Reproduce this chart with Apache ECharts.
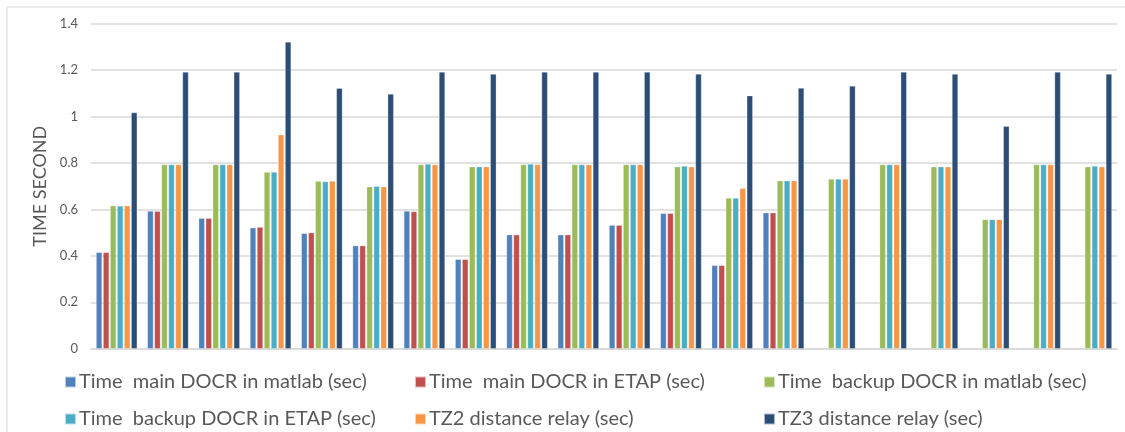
<!DOCTYPE html>
<html>
<head>
<meta charset="utf-8">
<script src="https://cdn.jsdelivr.net/npm/echarts@6/dist/echarts.min.js"></script>
<style>html,body{margin:0;padding:0;background:#fff;}#c{width:1125px;height:432px;}</style>
</head>
<body>
<div id="c"></div>
<script>
var categories = ['1','2','3','4','5','6','7','8','9','10','11','12','13','14','15','16','17','18','19','20'];
var seriesNames = [
  'Time  main DOCR in matlab (sec)',
  'Time  main DOCR in ETAP (sec)',
  'Time  backup DOCR in matlab (sec)',
  'Time  backup DOCR in ETAP (sec)',
  'TZ2 distance relay (sec)',
  'TZ3 distance relay (sec)'
];
var mainMatlab = [0.415,0.593,0.562,0.521,0.497,0.444,0.593,0.385,0.491,0.491,0.532,0.583,0.359,0.586,null,null,null,null,null,null];
var mainEtap   = [0.415,0.592,0.562,0.524,0.500,0.444,0.591,0.385,0.491,0.491,0.532,0.583,0.359,0.586,null,null,null,null,null,null];
var backupMatlab = [0.616,0.793,0.793,0.761,0.722,0.698,0.793,0.784,0.793,0.793,0.793,0.784,0.649,0.724,0.731,0.793,0.784,0.557,0.793,0.784];
var backupEtap   = [0.615,0.793,0.793,0.761,0.720,0.700,0.796,0.784,0.796,0.793,0.793,0.787,0.649,0.724,0.731,0.793,0.784,0.557,0.793,0.787];
var tz2 = [0.616,0.793,0.793,0.922,0.722,0.698,0.793,0.784,0.793,0.793,0.793,0.784,0.691,0.724,0.731,0.793,0.784,0.557,0.793,0.784];
var tz3 = [1.017,1.192,1.192,1.321,1.122,1.097,1.192,1.183,1.192,1.192,1.192,1.183,1.090,1.123,1.132,1.192,1.183,0.958,1.192,1.183];
var yTicks = [0,0.2,0.4,0.6,0.8,1,1.2,1.4];

var colors = ['#4F81BD','#C0504D','#9BBB59','#4BACC6','#F79646','#2C4D75'];
var allData = [mainMatlab, mainEtap, backupMatlab, backupEtap, tz2, tz3];
var FONT = 'Lato, Liberation Sans, sans-serif';

var chart = echarts.init(document.getElementById('c'), null, {renderer:'canvas'});
var series = allData.map(function(d,i){
  return {
    name: seriesNames[i], type:'bar', data:d,
    barWidth:6, barGap:'17%',
    itemStyle:{color:colors[i], borderColor:'rgba(255,255,255,0.6)', borderWidth:0.5},
    emphasis:{disabled:true}
  };
});
var legendPos = [[64,372],[414,372],[763,372],[64,409],[414,409],[763,409]];
var legends = seriesNames.map(function(n,i){
  return {
    data:[n], left:legendPos[i][0], top:legendPos[i][1], padding:0,
    icon:'rect', itemWidth:11, itemHeight:11, itemGap:0,
    textStyle:{color:'#595959', fontSize:20, fontFamily:FONT, padding:[0,0,0,-2]},
    selectedMode:false
  };
});
chart.setOption({
  animation:false,
  color:colors,
  graphic:[{type:'rect', shape:{x:7,y:7,width:1130,height:440}, style:{fill:'none', stroke:'#D9D9D9', lineWidth:1}}],
  grid:{left:91, right:8, top:23.7, bottom:83.3},
  legend:legends,
  xAxis:{type:'category', data:categories, axisLabel:{show:false}, axisTick:{show:false},
    axisLine:{lineStyle:{color:'#D9D9D9', width:1.5}}},
  yAxis:{type:'value', min:0, max:1.4, interval:0.2,
    name:'TIME SECOND', nameLocation:'middle', nameGap:40, nameRotate:90,
    nameTextStyle:{color:'#595959', fontSize:18, fontFamily:FONT},
    axisLabel:{color:'#595959', fontSize:13, margin:13, fontFamily:FONT,
      formatter:function(v){ return String(Math.round(v*10)/10); }},
    axisLine:{show:false}, axisTick:{show:false},
    splitLine:{lineStyle:{color:'#D9D9D9', width:1.5}}},
  series:series
});
</script>
</body>
</html>
